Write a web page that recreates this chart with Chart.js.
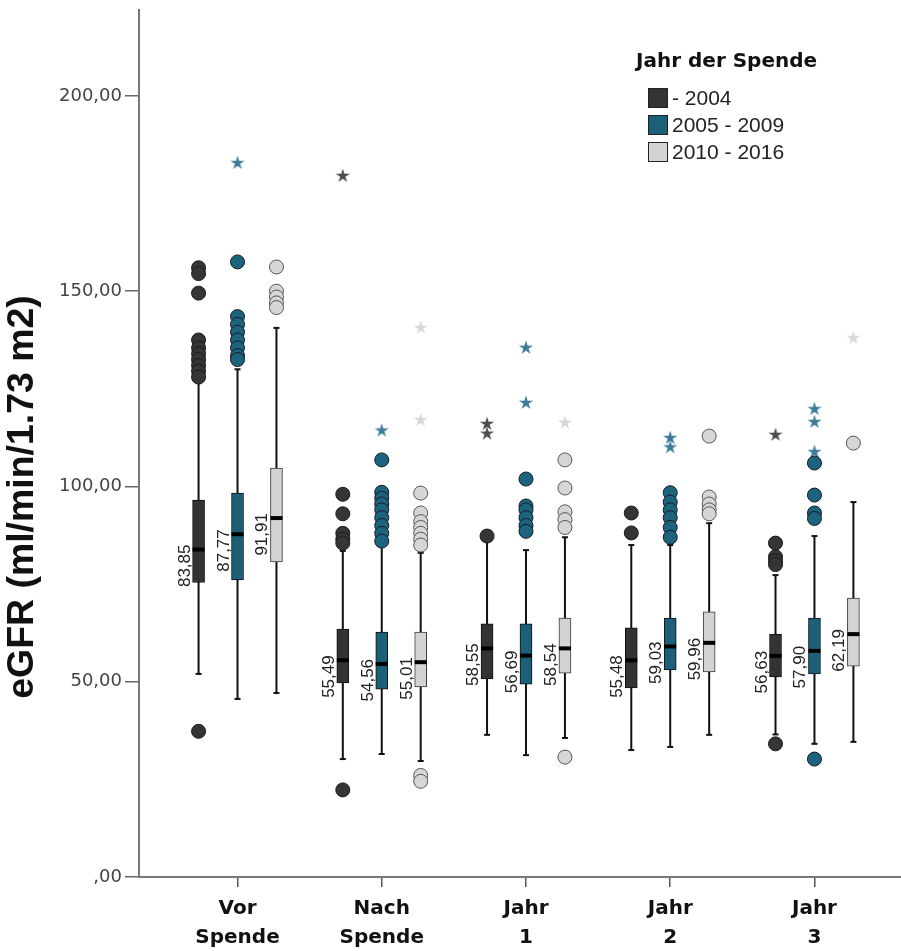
<!DOCTYPE html>
<html>
<head>
<meta charset="utf-8">
<script src="https://cdn.jsdelivr.net/npm/chart.js@4.4.1/dist/chart.umd.min.js"></script>
<style>
  body { margin: 0; background: #fff; overflow: hidden; }
  .wrap { position: relative; width: 901px; height: 951px; }
  canvas { display: block; }
  #chartLegend { position: absolute; left: 636px; top: 48px; }
  .legend-title { font: bold 20px "DejaVu Sans", sans-serif; color: #111; line-height: 24px; margin-bottom: 12px; }
  .legend-item { display: flex; align-items: center; height: 27px; margin-left: 12px;
    font: 21px "Liberation Sans", Arial, sans-serif; color: #222; }
  .legend-box { width: 20px; height: 20px; box-sizing: border-box; border: 1px solid #222; margin-right: 4px; }
</style>
</head>
<body>
<div class="wrap">
  <canvas id="boxChart" width="901" height="951"></canvas>
  <div id="chartLegend"><div class="legend-title">Jahr der Spende</div></div>
</div>
<script>
// ── Boxplot: eGFR by time point and donation period ─────────────────────────

const categories = [["Vor", "Spende"], ["Nach", "Spende"], ["Jahr", "1"], ["Jahr", "2"], ["Jahr", "3"]];
const groups = ["- 2004", "2005 - 2009", "2010 - 2016"];
const yTicks = [0, 50, 100, 150, 200];
const yTitle = "eGFR (ml/min/1.73 m2)";

// one row per group, one value per category
const medians = [
  [83.85, 55.49, 58.55, 55.48, 56.63],
  [87.77, 54.56, 56.69, 59.03, 57.90],
  [91.91, 55.01, 58.54, 59.96, 62.19],
];
const q1 = [
  [75.4, 49.7, 50.7, 48.4, 51.2],
  [76.1, 48.1, 49.4, 53.0, 52.0],
  [80.7, 48.7, 52.2, 52.5, 54.0],
];
const q3 = [
  [96.5, 63.5, 64.8, 63.8, 62.2],
  [98.3, 62.7, 64.8, 66.3, 66.3],
  [104.7, 62.7, 66.3, 67.9, 71.4],
];
const whiskerLow = [
  [52.0, 30.2, 36.4, 32.5, 36.5],
  [45.6, 31.5, 31.2, 33.3, 34.1],
  [47.1, 29.7, 35.6, 36.4, 34.6],
];
const whiskerHigh = [
  [127.0, 83.5, 86.0, 85.0, 77.3],
  [130.0, 85.0, 83.7, 85.0, 87.3],
  [140.6, 83.0, 87.0, 90.6, 96.0],
];
// circles (outliers)
const outliers = [
  [[156, 154.5, 149.5, 137.5, 135.5, 134, 132.5, 131, 129.5, 128, 37.3],
   [98, 93, 88, 86.5, 85.5, 22.3],
   [87.3],
   [93.2, 88.1],
   [85.5, 82, 81, 80, 34.1]],
  [[157.5, 143.5, 141.5, 139.5, 137.5, 135.5, 133.5, 132.5],
   [106.8, 98.5, 97, 95.5, 94, 92, 90, 88, 86],
   [101.9, 95, 94, 92, 90, 88.5],
   [98.4, 96, 94, 92, 89.5, 87],
   [106, 97.8, 93.2, 91.8, 30.2]],
  [[156.2, 150, 148.5, 147, 145.8],
   [98.3, 93.2, 91, 89.5, 88, 86.5, 85, 26, 24.5],
   [106.8, 99.6, 93.5, 91.5, 89.5, 30.7],
   [112.9, 97.3, 95.5, 94, 93],
   [111.1]],
];
// stars (extreme values)
const extremes = [
  [[], [179.5], [116, 113.5], [], [113.2]],
  [[182.8], [114.3], [135.5, 121.4], [112.4, 110], [119.8, 116.5, 108.8]],
  [[], [140.6, 117], [116.3], [], [138]],
];

const offsets = [-0.27, 0, 0.27];
const boxFill = ["#333333", "#1b5f79", "#d3d3d3"];
const boxEdge = ["#111111", "#111111", "#3a3a3a"];
const dotFill = ["#353535", "#1c6380", "#d6d6d6"];
const dotEdge = ["#1a1a1a", "#1a1a1a", "#555555"];
const starColor = ["#4d4d4d", "#3a7c9a", "#d8d8d8"];

const fmt = (v) => v.toFixed(2).replace(".", ",").replace(/^0,/, ",");

function starImage(color) {
  const c = document.createElement("canvas");
  c.width = 16;
  c.height = 16;
  const g = c.getContext("2d");
  g.fillStyle = color;
  g.beginPath();
  for (let k = 0; k < 10; k++) {
    const r = k % 2 ? 2.7 : 7.5;
    const a = -Math.PI / 2 + (k * Math.PI) / 5;
    g.lineTo(8 + r * Math.cos(a), 8 + r * Math.sin(a));
  }
  g.closePath();
  g.fill();
  return c;
}

// Build datasets
const whiskerPts = [];
const capPts = [];
const medianPts = [];
categories.forEach((_, i) => {
  groups.forEach((_, g) => {
    const x = i + offsets[g];
    whiskerPts.push({ x, y: whiskerLow[g][i] }, { x, y: whiskerHigh[g][i] }, { x, y: null });
    capPts.push({ x, y: whiskerLow[g][i] }, { x, y: whiskerHigh[g][i] });
    medianPts.push({ x, y: medians[g][i] });
  });
});

const datasets = [];
groups.forEach((label, g) => {
  datasets.push({
    type: "bar",
    label,
    data: categories.map((_, i) => ({ x: i + offsets[g], y: [q1[g][i], q3[g][i]] })),
    backgroundColor: boxFill[g],
    borderColor: boxEdge[g],
    borderWidth: 1,
    borderSkipped: false,
    barThickness: 12,
    grouped: false,
    order: 3,
  });
  datasets.push({
    type: "scatter",
    data: outliers[g].flatMap((vals, i) => vals.map((v) => ({ x: i + offsets[g], y: v }))),
    pointStyle: "circle",
    pointRadius: 7,
    pointBackgroundColor: dotFill[g],
    pointBorderColor: dotEdge[g],
    pointBorderWidth: 1,
    order: 0,
  });
  datasets.push({
    type: "scatter",
    data: extremes[g].flatMap((vals, i) => vals.map((v) => ({ x: i + offsets[g], y: v }))),
    pointStyle: starImage(starColor[g]),
    pointRadius: 7,
    order: 0,
  });
});
datasets.push({
  type: "line",
  data: whiskerPts,
  borderColor: "#111",
  borderWidth: 2,
  pointRadius: 0,
  spanGaps: false,
  order: 4,
});
datasets.push({
  type: "scatter",
  data: capPts,
  pointStyle: "line",
  pointRadius: 3,
  pointBorderColor: "#111",
  pointBorderWidth: 2,
  order: 2,
});
datasets.push({
  type: "scatter",
  data: medianPts,
  pointStyle: "line",
  pointRadius: 6,
  pointBorderColor: "#000",
  pointBorderWidth: 4,
  order: 1,
});

// median labels, rotated, just left of each box
const medianLabels = {
  id: "medianLabels",
  afterDatasetsDraw(chart) {
    const { ctx, scales } = chart;
    ctx.save();
    ctx.font = "17px 'Liberation Sans', Arial, sans-serif";
    ctx.fillStyle = "#222";
    ctx.textAlign = "right";
    ctx.textBaseline = "alphabetic";
    groups.forEach((_, g) => {
      medians[g].forEach((m, i) => {
        const px = scales.x.getPixelForValue(i + offsets[g]) - 9;
        const py = scales.y.getPixelForValue(m) - 5;
        ctx.save();
        ctx.translate(px, py);
        ctx.rotate(-Math.PI / 2);
        ctx.fillText(fmt(m), 0, 0);
        ctx.restore();
      });
    });
    ctx.restore();
  },
};

// y axis title (drawn by hand to sit lower than centre, like the original)
const axisTitle = {
  id: "axisTitle",
  afterDraw(chart) {
    const ctx = chart.ctx;
    ctx.save();
    ctx.translate(23, 497);
    ctx.rotate(-Math.PI / 2);
    ctx.scale(1.04, 1);
    ctx.font = "bold 36px 'Liberation Sans', Arial, sans-serif";
    ctx.fillStyle = "#111";
    ctx.textAlign = "center";
    ctx.textBaseline = "middle";
    ctx.fillText(yTitle, 0, 0);
    ctx.restore();
  },
};

const ctx = document.getElementById("boxChart").getContext("2d");
new Chart(ctx, {
  type: "bar",
  data: { datasets },
  plugins: [medianLabels, axisTitle],
  options: {
    responsive: false,
    animation: false,
    layout: { autoPadding: false, padding: { top: 10, right: 0, bottom: 0, left: 0 } },
    plugins: {
      legend: { display: false }, // custom legend below
      tooltip: { enabled: false },
    },
    scales: {
      x: {
        type: "linear",
        min: -0.683,
        max: 4.6,
        offset: false,
        afterBuildTicks: (s) => { s.ticks = categories.map((_, i) => ({ value: i })); },
        afterFit: (s) => { s.height = 74; s.paddingLeft = 0; s.paddingRight = 0; },
        ticks: {
          callback: (v) => categories[v],
          font: { family: "DejaVu Sans", size: 20, weight: "bold", lineHeight: 1.45 },
          color: "#111",
          padding: 7,
          maxRotation: 0,
          autoSkip: false,
        },
        grid: { drawOnChartArea: false, tickLength: 10, color: "#555", lineWidth: 1.5, offset: false },
        border: { color: "#777", width: 2 },
      },
      y: {
        min: 0,
        max: 222,
        afterBuildTicks: (s) => { s.ticks = yTicks.map((v) => ({ value: v })); },
        afterFit: (s) => { s.width = 139; s.paddingTop = 0; s.paddingBottom = 0; },
        ticks: {
          callback: (v) => fmt(v),
          font: { family: "DejaVu Sans", size: 18 },
          color: "#444",
          padding: 3,
        },
        grid: { drawOnChartArea: false, tickLength: 14, color: "#666", lineWidth: 1.5 },
        border: { color: "#777", width: 2 },
      },
    },
  },
});

// ── Build custom legend ──────────────────────────────────────────────────────
const legendEl = document.getElementById("chartLegend");
groups.forEach((name, g) => {
  const item = document.createElement("div");
  item.className = "legend-item";
  item.innerHTML = `
    <div class="legend-box" style="background:${boxFill[g]}"></div>
    <span>${name}</span>
  `;
  legendEl.appendChild(item);
});
</script>
</body>
</html>
